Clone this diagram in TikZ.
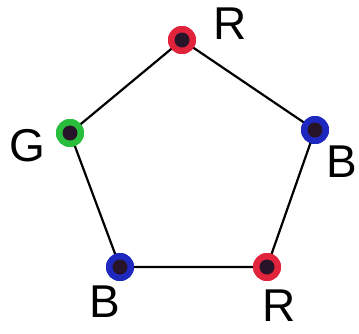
\documentclass[tikz,border=0pt]{standalone}
\usepackage{fontspec}
\setsansfont{Liberation Sans}
\usepackage{tikz}
\usetikzlibrary{positioning}

\definecolor{vred}{RGB}{225,35,60}
\definecolor{vblue}{RGB}{30,40,190}
\definecolor{vgreen}{RGB}{40,190,60}
\definecolor{vcore}{RGB}{40,20,40}

\tikzset{
  vtx/.style={circle,fill=#1,minimum size=28pt,inner sep=0pt,
    path picture={\fill[vcore] (path picture bounding box.center) circle (7.5pt);}},
  lab/.style={font=\fontsize{46}{46}\selectfont\sffamily,inner sep=0pt},
  edge/.style={line width=2.2pt,black}
}

\begin{document}
\begin{tikzpicture}[x=1pt,y=-1pt]
  \useasboundingbox (0,0) rectangle (359,333);
  % vertices of the pentagon
  \node[vtx=vred]   (top) at (182,40)  {};
  \node[vtx=vblue]  (rt)  at (315,130) {};
  \node[vtx=vred]   (br)  at (267,267) {};
  \node[vtx=vblue]  (bl)  at (120,267) {};
  \node[vtx=vgreen] (lt)  at (70,133)  {};
  % edges
  \draw[edge] (top.center) -- (rt.center) -- (br.center) -- (bl.center) -- (lt.center) -- cycle;
  % redraw vertices on top
  \foreach \v/\c in {top/vred,rt/vblue,br/vred,bl/vblue,lt/vgreen}{
    \node[vtx=\c] at (\v) {};
  }
  % colour labels
  \node[lab] (ltop) at (230,24)  {R};
  \node[lab] (lrt)  at (342,162) {B};
  \node[lab] (lbr)  at (279,306) {R};
  \node[lab] (lbl)  at (105,302) {B};
  \node[lab] (llt)  at (27,146)  {G};
\end{tikzpicture}
\end{document}
